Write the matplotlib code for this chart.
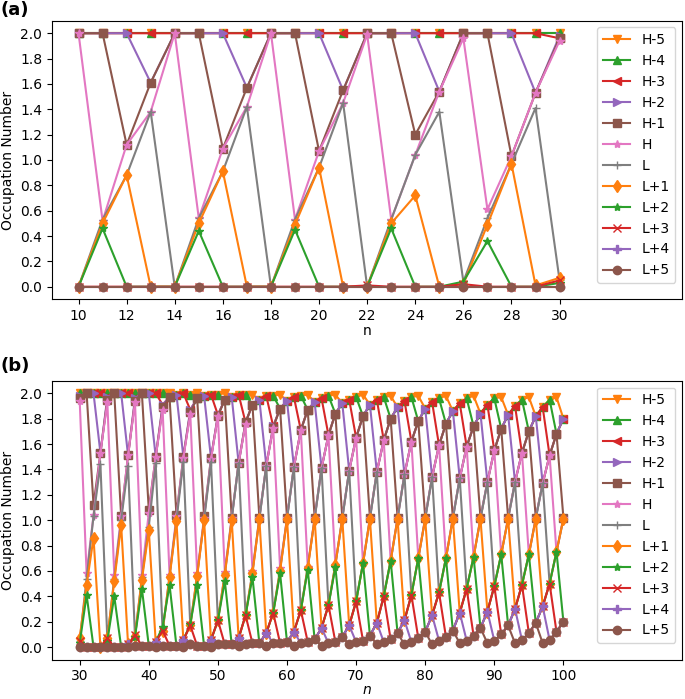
import matplotlib
matplotlib.use("Agg")
import matplotlib.pyplot as plt
import numpy as np

# ---- panel (a): n = 10..30 ----
n_a = np.arange(10, 31)
a_hm5 = [2.0] * 21
a_hm4 = [2.0] * 21
a_hm3 = [2.0] * 20 + [1.96]
a_hm2 = [2.0, 2.0, 2.0, 1.61, 2.0, 2.0, 2.0, 1.57, 2.0, 2.0, 2.0, 1.55, 2.0, 2.0,
         2.0, 1.54, 2.0, 2.0, 2.0, 1.53, 1.98]
a_hm1 = [2.0, 2.0, 1.12, 1.61, 2.0, 2.0, 1.09, 1.57, 2.0, 2.0, 1.07, 1.55, 2.0, 2.0,
         1.20, 1.54, 2.0, 2.0, 1.03, 1.53, 1.96]
a_h = [2.0, 0.52, 1.12, 1.38, 2.0, 0.54, 1.09, 1.42, 2.0, 0.53, 1.07, 1.45, 1.99, 0.53,
       1.04, 1.54, 1.96, 0.61, 1.03, 1.53, 1.94]
a_l = [0.0, 0.53, 0.88, 1.38, 0.0, 0.54, 0.91, 1.42, 0.0, 0.53, 0.94, 1.45, 0.0, 0.53,
       1.04, 1.38, 0.04, 0.54, 0.97, 1.41, 0.05]
a_lp1 = [0.0, 0.50, 0.88, 0.0, 0.0, 0.50, 0.91, 0.0, 0.0, 0.49, 0.94, 0.0, 0.0, 0.50,
         0.72, 0.0, 0.02, 0.49, 0.97, 0.01, 0.07]
a_lp2 = [0.0, 0.46, 0.0, 0.0, 0.0, 0.44, 0.0, 0.0, 0.0, 0.45, 0.0, 0.0, 0.0, 0.46,
         0.0, 0.0, 0.04, 0.36, 0.0, 0.0, 0.03]
a_lp3 = [0.0] * 12 + [0.01, 0.0, 0.0, 0.0, 0.02, 0.0, 0.0, 0.0, 0.05]
a_lp4 = [0.0] * 21
a_lp5 = [0.0] * 21

# ---- panel (b): n = 30..100 ----
n_b = np.arange(30, 101)
b_hm5 = [2.00, 2.00, 2.00, 2.00, 2.00, 2.00, 2.00, 2.00, 2.00, 2.00, 2.00, 2.00,
         2.00, 2.00, 1.99, 2.00, 1.99, 2.00, 1.98, 1.99, 1.99, 2.00, 1.97, 1.99,
         1.99, 1.99, 1.95, 1.98, 1.98, 1.99, 1.94, 1.97, 1.98, 1.99, 1.93, 1.96,
         1.98, 1.99, 1.92, 1.95, 1.97, 1.99, 1.91, 1.95, 1.97, 1.98, 1.89, 1.94,
         1.97, 1.98, 1.88, 1.93, 1.96, 1.98, 1.86, 1.92, 1.96, 1.98, 1.84, 1.91,
         1.96, 1.97, 1.83, 1.90, 1.95, 1.97, 1.82, 1.89, 1.95, 1.97, 1.80]
b_hm4 = [2.00, 2.00, 2.00, 2.00, 2.00, 2.00, 2.00, 2.00, 2.00, 2.00, 2.00, 2.00,
         2.00, 1.97, 1.99, 2.00, 1.99, 1.96, 1.98, 1.99, 1.99, 1.95, 1.97, 1.99,
         1.99, 1.91, 1.95, 1.98, 1.98, 1.88, 1.94, 1.97, 1.98, 1.87, 1.93, 1.96,
         1.98, 1.84, 1.92, 1.95, 1.97, 1.82, 1.91, 1.95, 1.97, 1.80, 1.89, 1.94,
         1.97, 1.78, 1.88, 1.93, 1.96, 1.76, 1.86, 1.92, 1.96, 1.74, 1.84, 1.91,
         1.96, 1.72, 1.83, 1.90, 1.95, 1.70, 1.82, 1.89, 1.95, 1.68, 1.80]
b_hm3 = [1.96, 2.00, 2.00, 2.00, 1.97, 2.00, 2.00, 2.00, 1.96, 2.00, 2.00, 2.00,
         1.91, 1.97, 1.99, 2.00, 1.87, 1.96, 1.98, 1.99, 1.83, 1.95, 1.97, 1.99,
         1.77, 1.91, 1.95, 1.98, 1.74, 1.88, 1.94, 1.97, 1.71, 1.87, 1.93, 1.96,
         1.67, 1.84, 1.92, 1.95, 1.65, 1.82, 1.91, 1.95, 1.63, 1.80, 1.89, 1.94,
         1.62, 1.78, 1.88, 1.93, 1.59, 1.76, 1.86, 1.92, 1.58, 1.74, 1.84, 1.91,
         1.55, 1.72, 1.83, 1.90, 1.53, 1.70, 1.82, 1.89, 1.51, 1.68, 1.80]
b_hm2 = [1.98, 2.00, 2.00, 1.53, 1.97, 2.00, 2.00, 1.51, 1.96, 2.00, 2.00, 1.50,
         1.91, 1.97, 1.99, 1.50, 1.87, 1.96, 1.98, 1.49, 1.83, 1.95, 1.97, 1.45,
         1.77, 1.91, 1.95, 1.43, 1.74, 1.88, 1.94, 1.42, 1.71, 1.87, 1.93, 1.41,
         1.67, 1.84, 1.92, 1.39, 1.65, 1.82, 1.91, 1.38, 1.63, 1.80, 1.89, 1.36,
         1.62, 1.78, 1.88, 1.34, 1.59, 1.76, 1.86, 1.33, 1.58, 1.74, 1.84, 1.30,
         1.55, 1.72, 1.83, 1.30, 1.53, 1.70, 1.82, 1.29, 1.51, 1.68, 1.80]
b_hm1 = [1.96, 2.00, 1.12, 1.53, 1.95, 2.00, 1.03, 1.51, 1.94, 2.00, 1.08, 1.50,
         1.89, 1.97, 1.04, 1.50, 1.85, 1.96, 1.03, 1.49, 1.82, 1.95, 1.02, 1.45,
         1.77, 1.91, 1.02, 1.43, 1.73, 1.88, 1.02, 1.42, 1.71, 1.87, 1.02, 1.41,
         1.67, 1.84, 1.02, 1.39, 1.65, 1.82, 1.02, 1.38, 1.63, 1.80, 1.02, 1.36,
         1.62, 1.78, 1.02, 1.34, 1.59, 1.76, 1.02, 1.33, 1.58, 1.74, 1.02, 1.30,
         1.55, 1.72, 1.02, 1.30, 1.53, 1.70, 1.02, 1.29, 1.51, 1.68, 1.02]
b_h = [1.94, 0.58, 1.04, 1.53, 1.93, 0.57, 1.03, 1.51, 1.93, 0.57, 1.06, 1.50,
       1.87, 0.57, 1.03, 1.49, 1.84, 0.58, 1.02, 1.48, 1.82, 0.59, 1.02, 1.45,
       1.76, 0.60, 1.02, 1.43, 1.73, 0.62, 1.02, 1.42, 1.71, 0.63, 1.02, 1.41,
       1.67, 0.65, 1.02, 1.39, 1.65, 0.66, 1.02, 1.38, 1.63, 0.68, 1.02, 1.36,
       1.62, 0.70, 1.02, 1.34, 1.59, 0.70, 1.02, 1.33, 1.58, 0.71, 1.02, 1.30,
       1.55, 0.73, 1.02, 1.30, 1.53, 0.73, 1.02, 1.29, 1.51, 0.75, 1.02]
b_l = [0.05, 0.54, 1.03, 1.44, 0.06, 0.54, 1.00, 1.43, 0.08, 0.55, 0.95, 1.45,
       0.12, 0.56, 1.00, 1.46, 0.17, 0.57, 1.00, 1.46, 0.21, 0.58, 1.01, 1.45,
       0.25, 0.59, 1.01, 1.43, 0.27, 0.61, 1.01, 1.42, 0.29, 0.63, 1.01, 1.41,
       0.33, 0.65, 1.01, 1.39, 0.36, 0.66, 1.01, 1.38, 0.40, 0.68, 1.01, 1.36,
       0.41, 0.70, 1.01, 1.34, 0.43, 0.70, 1.01, 1.33, 0.46, 0.71, 1.01, 1.30,
       0.48, 0.73, 1.01, 1.30, 0.49, 0.73, 1.01, 1.29, 0.50, 0.75, 1.01]
b_lp1 = [0.07, 0.49, 0.86, 0.00, 0.07, 0.52, 0.96, 0.02, 0.09, 0.53, 0.92, 0.04,
         0.13, 0.55, 0.99, 0.055, 0.17, 0.56, 1.00, 0.055, 0.21, 0.57, 1.00, 0.07,
         0.25, 0.58, 1.01, 0.11, 0.27, 0.60, 1.01, 0.12, 0.29, 0.62, 1.01, 0.15,
         0.33, 0.65, 1.01, 0.17, 0.36, 0.66, 1.01, 0.19, 0.40, 0.68, 1.01, 0.21,
         0.41, 0.70, 1.01, 0.25, 0.43, 0.70, 1.01, 0.27, 0.46, 0.71, 1.01, 0.28,
         0.48, 0.73, 1.01, 0.30, 0.49, 0.73, 1.01, 0.32, 0.50, 0.75, 1.01]
b_lp2 = [0.03, 0.41, 0.00, 0.00, 0.05, 0.40, 0.00, 0.02, 0.08, 0.46, 0.01, 0.04,
         0.16, 0.49, 0.01, 0.055, 0.18, 0.49, 0.01, 0.055, 0.21, 0.52, 0.02, 0.07,
         0.25, 0.55, 0.03, 0.11, 0.27, 0.58, 0.04, 0.12, 0.29, 0.61, 0.06, 0.15,
         0.33, 0.63, 0.08, 0.17, 0.36, 0.66, 0.09, 0.19, 0.40, 0.68, 0.11, 0.21,
         0.41, 0.70, 0.12, 0.25, 0.43, 0.70, 0.13, 0.27, 0.46, 0.71, 0.15, 0.28,
         0.48, 0.73, 0.17, 0.30, 0.49, 0.73, 0.19, 0.32, 0.50, 0.75, 0.20]
b_lp3 = [0.05, 0.00, 0.00, 0.00, 0.07, 0.00, 0.00, 0.02, 0.095, 0.01, 0.01, 0.04,
         0.13, 0.01, 0.01, 0.055, 0.17, 0.01, 0.01, 0.055, 0.21, 0.02, 0.02, 0.07,
         0.25, 0.03, 0.03, 0.11, 0.27, 0.03, 0.04, 0.12, 0.29, 0.04, 0.06, 0.15,
         0.33, 0.04, 0.08, 0.17, 0.36, 0.05, 0.09, 0.19, 0.40, 0.06, 0.11, 0.21,
         0.41, 0.07, 0.12, 0.25, 0.43, 0.08, 0.13, 0.27, 0.46, 0.09, 0.15, 0.28,
         0.48, 0.10, 0.17, 0.30, 0.49, 0.11, 0.19, 0.32, 0.50, 0.12, 0.20]
b_lp4 = [0.00, 0.00, 0.00, 0.00, 0.00, 0.00, 0.00, 0.02, 0.01, 0.01, 0.01, 0.04,
         0.01, 0.01, 0.01, 0.055, 0.02, 0.01, 0.01, 0.055, 0.02, 0.02, 0.02, 0.07,
         0.02, 0.03, 0.03, 0.11, 0.03, 0.03, 0.04, 0.12, 0.03, 0.04, 0.06, 0.15,
         0.03, 0.04, 0.08, 0.17, 0.04, 0.05, 0.09, 0.19, 0.04, 0.06, 0.11, 0.21,
         0.04, 0.07, 0.12, 0.25, 0.05, 0.08, 0.13, 0.27, 0.05, 0.09, 0.15, 0.28,
         0.05, 0.10, 0.17, 0.30, 0.055, 0.11, 0.19, 0.32, 0.055, 0.12, 0.20]
b_lp5 = [0.00, 0.00, 0.00, 0.00, 0.00, 0.00, 0.00, 0.00, 0.01, 0.01, 0.01, 0.00,
         0.01, 0.01, 0.01, 0.00, 0.02, 0.01, 0.01, 0.00, 0.02, 0.02, 0.02, 0.01,
         0.02, 0.03, 0.03, 0.01, 0.03, 0.03, 0.04, 0.01, 0.03, 0.04, 0.06, 0.01,
         0.03, 0.04, 0.08, 0.02, 0.04, 0.05, 0.09, 0.02, 0.04, 0.06, 0.11, 0.02,
         0.04, 0.07, 0.12, 0.02, 0.05, 0.08, 0.13, 0.03, 0.05, 0.09, 0.15, 0.03,
         0.05, 0.10, 0.17, 0.03, 0.055, 0.11, 0.19, 0.03, 0.055, 0.12, 0.20]

labels = ["H-5", "H-4", "H-3", "H-2", "H-1", "H", "L",
          "L+1", "L+2", "L+3", "L+4", "L+5"]
markers = ["v", "^", "<", ">", "s", "*", "+", "d", "*", "x", "P", "o"]
colors = ["C1", "C2", "C3", "C4", "C5", "C6", "C7",
          "C1", "C2", "C3", "C4", "C5"]

series_a = [a_hm5, a_hm4, a_hm3, a_hm2, a_hm1, a_h, a_l,
            a_lp1, a_lp2, a_lp3, a_lp4, a_lp5]
series_b = [b_hm5, b_hm4, b_hm3, b_hm2, b_hm1, b_h, b_l,
            b_lp1, b_lp2, b_lp3, b_lp4, b_lp5]

fig = plt.figure(figsize=(6.85, 6.99), dpi=100)
ax_a = fig.add_axes([0.076, 0.5717, 0.920, 0.3989])
ax_b = fig.add_axes([0.076, 0.0562, 0.920, 0.3993])


def draw(ax, x, series):
    for vals, lab, mk, col in zip(series, labels, markers, colors):
        ax.plot(x, vals, marker=mk, color=col, label=lab)
    ax.set_ylabel("Occupation Number")
    ax.set_yticks(np.arange(0, 2.01, 0.2))
    ax.legend(loc="upper right")


draw(ax_a, n_a, series_a)
ax_a.set_xlim(8.9, 35.1)
ax_a.set_xticks(np.arange(10, 31, 2))
ax_a.set_xlabel("n", labelpad=1)
ax_a.set_ylim(-0.1, 2.1)

draw(ax_b, n_b, series_b)
ax_b.set_xlim(26.0, 117.2)
ax_b.set_xticks(np.arange(30, 101, 10))
ax_b.set_xlabel("$n$", labelpad=0)
ax_b.set_ylim(-0.1, 2.1)

fig.text(0.0, 0.998, "(a)", fontsize=13, fontweight="bold", va="top")
fig.text(0.0, 0.489, "(b)", fontsize=13, fontweight="bold", va="top")

fig.savefig("out.png", dpi=100)
